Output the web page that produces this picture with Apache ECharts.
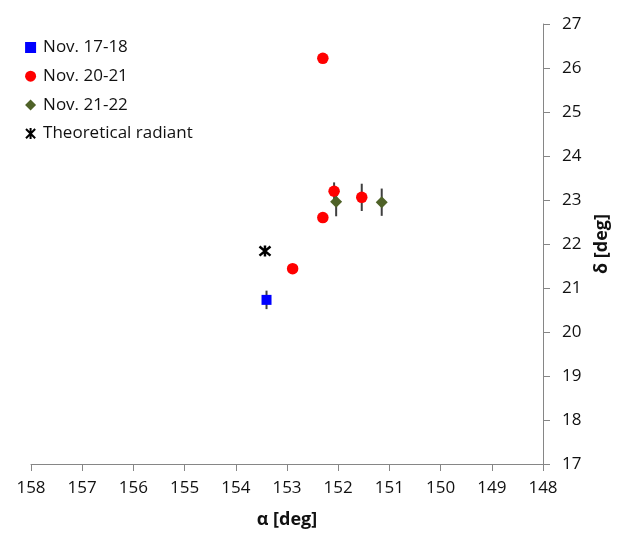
<!DOCTYPE html>
<html>
<head>
<meta charset="utf-8">
<script src="https://cdn.jsdelivr.net/npm/echarts@6/dist/echarts.min.js"></script>
<style>
  html, body { margin: 0; padding: 0; background: #fff; }
  #chart { width: 624px; height: 534px; }
</style>
</head>
<body>
<div id="chart"></div>
<script>
// Right ascension (alpha) and declination (delta) in degrees, with delta uncertainty
const nov1718Alpha = [153.40];
const nov1718Delta = [20.73];
const nov1718Err   = [0.21];

const nov2021Alpha = [152.30, 152.08, 151.54, 152.30, 152.89];
const nov2021Delta = [26.22, 23.20, 23.06, 22.60, 21.44];
const nov2021Err   = [null, 0.20, 0.31, null, null];

const nov2122Alpha = [152.04, 151.15];
const nov2122Delta = [22.96, 22.95];
const nov2122Err   = [0.33, 0.31];

const radiantAlpha = [153.43];
const radiantDelta = [21.84];

const seriesNames = ['Nov. 17-18', 'Nov. 20-21', 'Nov. 21-22', 'Theoretical radiant'];

const alphaTicks = { min: 148, max: 158, step: 1 };
const deltaTicks = { min: 17, max: 27, step: 1 };

const FONT = '"Open Sans", "Liberation Sans", sans-serif';
const AXIS_GREY = '#868686';
const TEXT = '#111';
const ASTERISK = 'path://M0,0L10,10M10,0L0,10M5,-1L5,11';

function points(xs, ys) {
  return xs.map((x, i) => [x, ys[i]]);
}

function errorRows(xs, ys, es) {
  const rows = [];
  xs.forEach((x, i) => {
    if (es[i] != null) rows.push([x, ys[i] - es[i], ys[i] + es[i]]);
  });
  return rows;
}

const errorData = []
  .concat(errorRows(nov1718Alpha, nov1718Delta, nov1718Err))
  .concat(errorRows(nov2021Alpha, nov2021Delta, nov2021Err))
  .concat(errorRows(nov2122Alpha, nov2122Delta, nov2122Err));

const chart = echarts.init(document.getElementById('chart'), null, { renderer: 'canvas' });

chart.setOption({
  backgroundColor: '#fff',
  animation: false,
  grid: { left: 31, right: 81, top: 24, bottom: 68.5, containLabel: false },
  legend: {
    data: seriesNames,
    orient: 'vertical',
    left: 20,
    top: 34,
    itemWidth: 11,
    itemHeight: 11,
    itemGap: 11.7,
    textStyle: { fontFamily: FONT, fontSize: 17, color: TEXT, padding: [0, 0, 0, 2] }
  },
  xAxis: {
    type: 'value',
    inverse: true,
    min: alphaTicks.min,
    max: alphaTicks.max,
    interval: alphaTicks.step,
    name: 'α [deg]',
    nameLocation: 'middle',
    nameGap: 47,
    nameTextStyle: { fontFamily: FONT, fontSize: 18, fontWeight: 'bold', color: TEXT },
    axisLine: { show: true, onZero: false, lineStyle: { color: AXIS_GREY, width: 1 } },
    axisTick: { show: true, inside: false, length: 7, lineStyle: { color: AXIS_GREY } },
    axisLabel: { fontFamily: FONT, fontSize: 17, color: TEXT, margin: 16 },
    splitLine: { show: false }
  },
  yAxis: {
    type: 'value',
    position: 'right',
    min: deltaTicks.min,
    max: deltaTicks.max,
    interval: deltaTicks.step,
    name: 'δ [deg]',
    nameLocation: 'middle',
    nameRotate: 90,
    nameGap: 50,
    nameTextStyle: { fontFamily: FONT, fontSize: 18, fontWeight: 'bold', color: TEXT },
    axisLine: { show: true, onZero: false, lineStyle: { color: AXIS_GREY, width: 1 } },
    axisTick: { show: true, inside: false, length: 7, lineStyle: { color: AXIS_GREY } },
    axisLabel: { fontFamily: FONT, fontSize: 17, color: TEXT, margin: 19 },
    splitLine: { show: false }
  },
  series: [
    {
      name: 'errors',
      type: 'custom',
      z: 1,
      silent: true,
      data: errorData,
      encode: { x: 0, y: [1, 2] },
      renderItem: function (params, api) {
        const lo = api.coord([api.value(0), api.value(1)]);
        const hi = api.coord([api.value(0), api.value(2)]);
        return {
          type: 'line',
          shape: { x1: lo[0], y1: lo[1], x2: hi[0], y2: hi[1] },
          style: { stroke: '#3f3f3f', lineWidth: 2 }
        };
      }
    },
    {
      name: seriesNames[0],
      type: 'scatter',
      z: 3,
      symbol: 'rect',
      symbolSize: 10,
      itemStyle: { color: '#0000ff', opacity: 1 },
      data: points(nov1718Alpha, nov1718Delta)
    },
    {
      name: seriesNames[1],
      type: 'scatter',
      z: 3,
      symbol: 'circle',
      symbolSize: 11.5,
      itemStyle: { color: '#ff0000', opacity: 1 },
      data: points(nov2021Alpha, nov2021Delta)
    },
    {
      name: seriesNames[2],
      type: 'scatter',
      z: 3,
      symbol: 'diamond',
      symbolSize: 12,
      itemStyle: { color: '#4f6228', opacity: 1 },
      data: points(nov2122Alpha, nov2122Delta)
    },
    {
      name: seriesNames[3],
      type: 'scatter',
      z: 3,
      symbol: ASTERISK,
      symbolSize: 11,
      itemStyle: { color: '#000', borderColor: '#000', borderWidth: 2.5, opacity: 1 },
      data: points(radiantAlpha, radiantDelta)
    }
  ]
});
</script>
</body>
</html>
